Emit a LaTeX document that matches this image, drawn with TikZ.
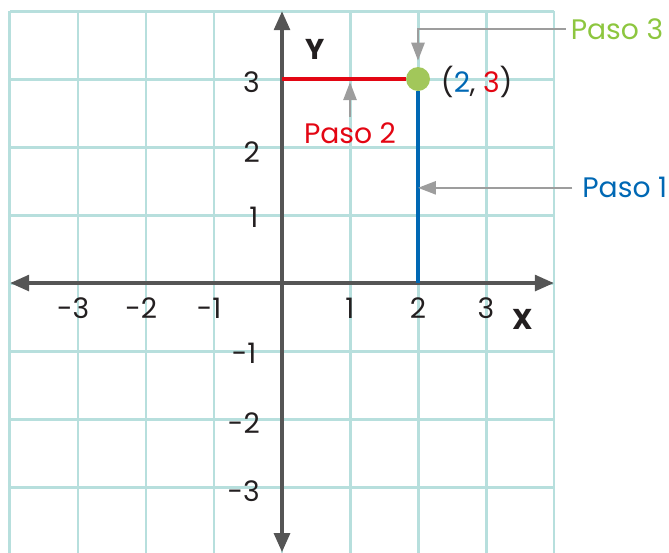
\documentclass[tikz,border=0pt]{standalone}
\usepackage{fontspec}
\setmainfont{Poppins}
\usepackage{xcolor}
\usepackage{tikz}
\usetikzlibrary{arrows.meta}
\definecolor{gridTeal}{HTML}{B7DFDD}
\definecolor{axisGray}{HTML}{555555}
\definecolor{arrowGray}{HTML}{9D9D9D}
\definecolor{tickInk}{HTML}{231F20}
\definecolor{stepRed}{HTML}{E30613}
\definecolor{stepBlue}{HTML}{0068B4}
\definecolor{stepGreen}{HTML}{8DC63F}
\definecolor{dotGreen}{HTML}{A2C75A}
\tikzset{
    gridline/.style={draw=gridTeal, line width=1.25pt},
    axis/.style={draw=axisGray, line width=1.7pt,
                 {Triangle[length=8pt,width=6.5pt]}-{Triangle[length=8pt,width=6.5pt]}},
    pointer/.style={draw=arrowGray, line width=0.9pt,
                    -{Triangle[length=7.5pt,width=5.5pt]}},
    stepline/.style={line width=1.3pt},
    dotpt/.style={circle, fill=dotGreen, minimum size=10pt, inner sep=0pt},
    lbl/.style={font=\fontsize{11.8}{13}\selectfont, inner sep=2pt},
    tick/.style={lbl, text=tickInk},
    axname/.style={font=\fontsize{12}{14}\selectfont\bfseries, text=tickInk, inner sep=1pt},
}

\begin{document}
\begin{tikzpicture}[x=1cm,y=1cm]
\useasboundingbox (-4.147,-3.956) rectangle (5.691,4.162);

% ---------------- GRID ----------------
\draw[gridline] (-4,-4) grid (4,4);

% ---------------- AXES ----------------
\coordinate (xL) at (-4,0);
\coordinate (xR) at (4,0);
\coordinate (yT) at (0,4);
\coordinate (yB) at (0,-3.96);
\draw[axis] (xL) -- (xR);
\draw[axis] (yB) -- (yT);

\node[axname] (xname) at (3.54,-0.54) {X};
\node[axname] (yname) at (0.49,3.44) {Y};

% x ticks
\node[tick] (xm3) at (-3.07,-0.37) {-3};
\node[tick] (xm2) at (-2.07,-0.37) {-2};
\node[tick] (xm1) at (-1.07,-0.37) {-1};
\node[tick] (xp1) at (1.0,-0.37)   {1};
\node[tick] (xp2) at (2.0,-0.37)   {2};
\node[tick] (xp3) at (3.0,-0.37)   {3};
% y ticks
\node[tick, anchor=east] (yp3) at (-0.25,2.96)  {3};
\node[tick, anchor=east] (yp2) at (-0.25,1.93)  {2};
\node[tick, anchor=east] (yp1) at (-0.27,0.96)  {1};
\node[tick, anchor=east] (ym1) at (-0.30,-1.04) {-1};
\node[tick, anchor=east] (ym2) at (-0.25,-2.06) {-2};
\node[tick, anchor=east] (ym3) at (-0.25,-3.06) {-3};

% ---------------- POINT (2,3) ----------------
\coordinate (y3) at (0,3);
\coordinate (x2) at (2,0);
\node[dotpt] (pt) at (2,3) {};
\draw[stepline, draw=stepRed]  (y3) -- (pt);
\draw[stepline, draw=stepBlue] (pt) -- (x2);
\node[tick, anchor=west] (ptlbl) at (2.26,2.96)
     {(\textcolor{stepBlue}{2},\ \textcolor{stepRed}{3})};

% ---------------- STEPS ----------------
% Paso 1: blue vertical
\node[lbl, text=stepBlue, anchor=west] (paso1) at (4.34,1.40) {Paso 1};
\draw[pointer, shorten <=2pt] (paso1.west) -- (paso1.west -| pt);
% Paso 2: red horizontal
\node[lbl, text=stepRed] (paso2) at (1.0,2.21) {Paso 2};
\draw[pointer, shorten >=1.3pt] (paso2.north) -- (paso2.north |- y3);
% Paso 3: the point
\node[lbl, text=stepGreen, anchor=west] (paso3) at (4.17,3.73) {Paso 3};
\draw[pointer, shorten >=2.5pt] (paso3.west) -| (pt.north);

\end{tikzpicture}
\end{document}
